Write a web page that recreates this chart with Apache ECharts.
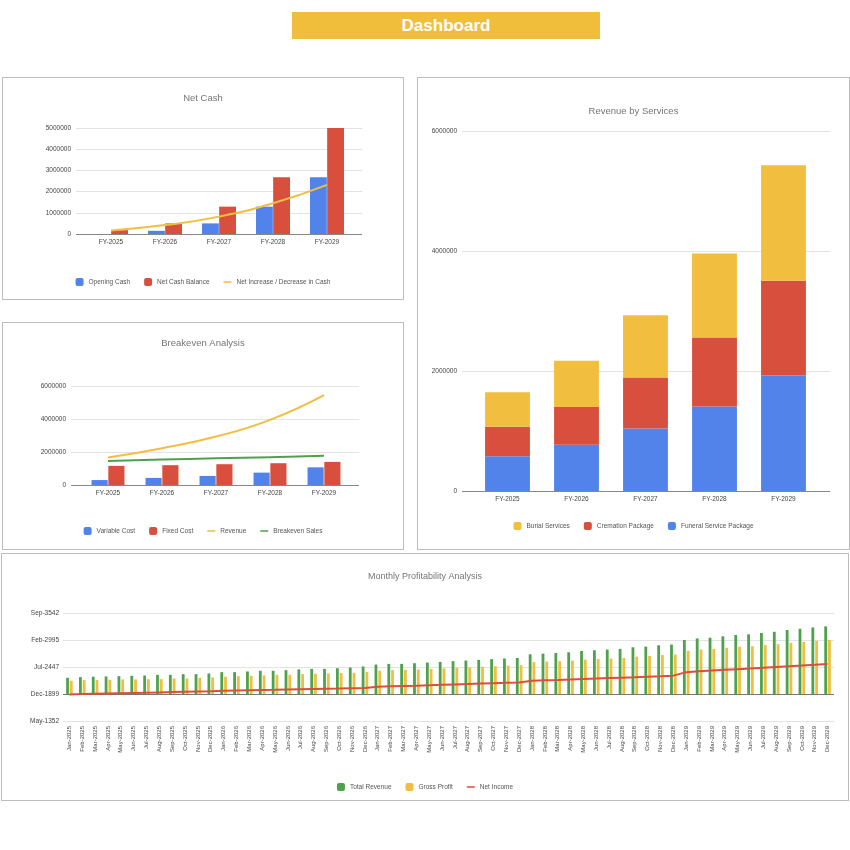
<!DOCTYPE html>
<html>
<head>
<meta charset="utf-8">
<title>Dashboard</title>
<script src="https://cdn.jsdelivr.net/npm/echarts@6/dist/echarts.min.js"></script>
<style>
  body { margin: 0; background: #fff; width: 850px; height: 850px; position: relative; overflow: hidden;
         font-family: "Liberation Sans", Arial, sans-serif; }
  .banner { position: absolute; left: 292px; top: 12px; width: 308px; height: 27px; background: #F1BE3B;
            color: #fff; font-weight: bold; font-size: 17px; text-align: center; line-height: 27px; }
  .panel { position: absolute; border: 1.5px solid #bcbcbc; box-sizing: border-box; background: #fff; }
  .chart { position: absolute; left: 0; top: 0; width: 100%; height: 100%; }
</style>
</head>
<body>
<div class="banner">Dashboard</div>
<div class="panel" style="left:2px; top:77px; width:402px; height:223px;"><div id="netCash" class="chart"></div></div>
<div class="panel" style="left:2px; top:322px; width:402px; height:228px;"><div id="breakeven" class="chart"></div></div>
<div class="panel" style="left:417px; top:77px; width:433px; height:473px;"><div id="revenue" class="chart"></div></div>
<div class="panel" style="left:1px; top:553px; width:848px; height:248px;"><div id="monthly" class="chart"></div></div>

<script>
// yearly categories
const years = ['FY-2025', 'FY-2026', 'FY-2027', 'FY-2028', 'FY-2029'];

// Net Cash
const openingCash = [0, 150000, 500000, 1290000, 2680000];
const netCashBalance = [180000, 500000, 1290000, 2680000, 5000000];
const netIncreaseCash = [170000, 420000, 820000, 1450000, 2320000];

// Breakeven Analysis
const variableCost = [300000, 430000, 550000, 750000, 1070000];
const fixedCost = [1160000, 1200000, 1260000, 1320000, 1400000];
const revenueLine = [1660000, 2230000, 2940000, 3950000, 5450000];
const breakevenSales = [1460000, 1540000, 1620000, 1680000, 1780000];

// Revenue by Services
const funeralService = [580000, 770000, 1040000, 1410000, 1925000];
const cremationPackage = [490000, 630000, 850000, 1150000, 1580000];
const burialServices = [575000, 770000, 1040000, 1400000, 1925000];

// Monthly Profitability Analysis
const monthNames = ['Jan', 'Feb', 'Mar', 'Apr', 'May', 'Jun', 'Jul', 'Aug', 'Sep', 'Oct', 'Nov', 'Dec'];
const calendarYears = ['2025', '2026', '2027', '2028', '2029'];
const totalRevenue = [
  120000, 125000, 128000, 130000, 132000, 135000, 137000, 142000, 142000, 147000, 147000, 152000,
  162000, 162000, 167000, 172000, 172000, 177000, 182000, 186000, 186000, 191000, 196000, 204000,
  218000, 223000, 223000, 228000, 233000, 238000, 243000, 248000, 253000, 258000, 263000, 267000,
  294000, 299000, 304000, 309000, 319000, 324000, 329000, 334000, 346000, 351000, 361000, 366000,
  400000, 412000, 417000, 427000, 437000, 442000, 452000, 461000, 474000, 483000, 493000, 501000
];
const grossProfit = [
  98000, 103000, 103000, 105000, 108000, 108000, 110000, 110000, 115000, 115000, 120000, 122000,
  128000, 132000, 135000, 137000, 142000, 142000, 147000, 150000, 152000, 155000, 157000, 164000,
  172000, 177000, 179000, 182000, 186000, 190000, 194000, 198000, 202000, 206000, 210000, 213000,
  236000, 240000, 243000, 247000, 255000, 259000, 263000, 267000, 277000, 281000, 289000, 293000,
  320000, 330000, 334000, 342000, 350000, 354000, 362000, 369000, 379000, 386000, 394000, 400000
];
const netIncome = [
  -3000, 0, 2000, 4000, 6000, 8000, 10000, 12000, 14000, 16000, 18000, 20000,
  24000, 26000, 28000, 30000, 31000, 33000, 35000, 37000, 39000, 40000, 42000, 44000,
  54000, 57000, 60000, 62000, 65000, 68000, 71000, 74000, 77000, 80000, 83000, 86000,
  98000, 101000, 104000, 108000, 111000, 114000, 118000, 121000, 124000, 128000, 131000, 136000,
  162000, 168000, 174000, 179000, 184000, 189000, 194000, 200000, 205000, 211000, 216000, 222000
];
const monthlyTickLabels = ['May-1352', 'Dec-1899', 'Jul-2447', 'Feb-2995', 'Sep-3542'];

const BLUE = '#5283EA';
const RED = '#D84F3E';
const YELLOW = '#F1BE3F';
const GREEN = '#4EA24C';
const FONT = '"Liberation Sans", Arial, sans-serif';
// thin dash used as legend icon for line series (corner dots keep the box square)
const LINE_ICON = 'path://M0,0h0.01v0.01h-0.01z M0,4.1h10v1.8h-10z M9.99,9.99h0.01v0.01h-0.01z';

function titleOpt(text, top, size) {
  return { text: text, left: 'center', top: top,
           textStyle: { fontFamily: FONT, fontSize: size, fontWeight: 'normal', color: '#757575' } };
}
function legendOpt(top, data) {
  return { top: top, left: 'center', itemWidth: 8, itemHeight: 8, itemGap: 14, data: data,
           textStyle: { fontFamily: FONT, fontSize: 6.5, color: '#555' } };
}

// Sheets-style layout: gridlines + labels span a wide back grid, bars sit in a narrower front grid
function layout(outer, inner, max, interval) {
  return {
    grid: [outer, inner],
    xAxis: [
      { gridIndex: 0, type: 'value', show: false, min: 0, max: 1 },
      { gridIndex: 1, type: 'category', data: years,
        axisLine: { show: false }, axisTick: { show: false },
        axisLabel: { fontFamily: FONT, fontSize: 6.5, color: '#444', margin: 5 } }
    ],
    yAxis: [
      { gridIndex: 0, type: 'value', min: 0, max: max, interval: interval,
        axisLine: { show: false }, axisTick: { show: false },
        axisLabel: { fontFamily: FONT, fontSize: 6.5, color: '#444', margin: 5, formatter: v => String(v) },
        splitLine: { lineStyle: { color: ['#888', '#e3e3e3', '#e3e3e3', '#e3e3e3', '#e3e3e3', '#e3e3e3'] } } },
      { gridIndex: 1, type: 'value', min: 0, max: max, interval: interval, show: false,
        splitLine: { show: false } }
    ]
  };
}
function onFront(s) { return Object.assign({ xAxisIndex: 1, yAxisIndex: 1 }, s); }

// ---- Net Cash ----
const netCashChart = echarts.init(document.getElementById('netCash'));
netCashChart.setOption(Object.assign({
  animation: false,
  title: titleOpt('Net Cash', 10, 9.5),
  legend: legendOpt(195, ['Opening Cash', 'Net Cash Balance',
    { name: 'Net Increase / Decrease in Cash', icon: LINE_ICON }]),
  series: [
    onFront({ name: 'Opening Cash', type: 'bar', data: openingCash, itemStyle: { color: BLUE },
      barCategoryGap: '37%', barGap: '2%' }),
    onFront({ name: 'Net Cash Balance', type: 'bar', data: netCashBalance, itemStyle: { color: RED } }),
    onFront({ name: 'Net Increase / Decrease in Cash', type: 'line', data: netIncreaseCash, smooth: true,
      symbol: 'none', lineStyle: { color: YELLOW, width: 2 }, itemStyle: { color: YELLOW } })
  ]
}, layout({ left: 73, top: 50, width: 286, height: 106 },
          { left: 81, top: 50, width: 270, height: 106 }, 5000000, 1000000)));

// ---- Breakeven Analysis ----
const breakevenChart = echarts.init(document.getElementById('breakeven'));
breakevenChart.setOption(Object.assign({
  animation: false,
  title: titleOpt('Breakeven Analysis', 10, 9.5),
  legend: legendOpt(199, ['Variable Cost', 'Fixed Cost',
    { name: 'Revenue', icon: LINE_ICON }, { name: 'Breakeven Sales', icon: LINE_ICON }]),
  series: [
    onFront({ name: 'Variable Cost', type: 'bar', data: variableCost, itemStyle: { color: BLUE },
      barCategoryGap: '39%', barGap: '4%' }),
    onFront({ name: 'Fixed Cost', type: 'bar', data: fixedCost, itemStyle: { color: RED } }),
    onFront({ name: 'Revenue', type: 'line', data: revenueLine, smooth: true, symbol: 'none',
      lineStyle: { color: YELLOW, width: 2 }, itemStyle: { color: YELLOW } }),
    onFront({ name: 'Breakeven Sales', type: 'line', data: breakevenSales, smooth: true, symbol: 'none',
      lineStyle: { color: GREEN, width: 2 }, itemStyle: { color: GREEN } })
  ]
}, layout({ left: 68, top: 63, width: 288, height: 99 },
          { left: 78, top: 63, width: 270, height: 99 }, 6000000, 2000000)));

// ---- Revenue by Services ----
const revenueChart = echarts.init(document.getElementById('revenue'));
revenueChart.setOption(Object.assign({
  animation: false,
  title: titleOpt('Revenue by Services', 23, 9.5),
  legend: legendOpt(439, ['Burial Services', 'Cremation Package', 'Funeral Service Package']),
  series: [
    onFront({ name: 'Funeral Service Package', type: 'bar', stack: 'rev', data: funeralService,
      itemStyle: { color: BLUE }, barCategoryGap: '35%' }),
    onFront({ name: 'Cremation Package', type: 'bar', stack: 'rev', data: cremationPackage,
      itemStyle: { color: RED } }),
    onFront({ name: 'Burial Services', type: 'bar', stack: 'rev', data: burialServices,
      itemStyle: { color: YELLOW } })
  ]
}, layout({ left: 44, top: 53, width: 368, height: 360 },
          { left: 55, top: 53, width: 345, height: 360 }, 6000000, 2000000)));

// ---- Monthly Profitability Analysis ----
const months = [];
calendarYears.forEach(y => monthNames.forEach(m => months.push(m + '-' + y)));

const monthlyChart = echarts.init(document.getElementById('monthly'));
monthlyChart.setOption({
  animation: false,
  title: titleOpt('Monthly Profitability Analysis', 13, 9),
  legend: legendOpt(224, ['Total Revenue', 'Gross Profit', { name: 'Net Income', icon: LINE_ICON }]),
  grid: { left: 61, top: 59, width: 771, height: 108 },
  xAxis: {
    type: 'category', data: months,
    axisLine: { show: false, onZero: false }, axisTick: { show: false },
    axisLabel: { fontFamily: FONT, fontSize: 6, color: '#444', rotate: 90, interval: 0, margin: 5 }
  },
  yAxis: {
    type: 'value', min: -200000, max: 600000, interval: 200000,
    axisLine: { show: false }, axisTick: { show: false },
    axisLabel: { fontFamily: FONT, fontSize: 6.5, color: '#444', margin: 4,
                 formatter: v => monthlyTickLabels[Math.round((v + 200000) / 200000)] },
    splitLine: { lineStyle: { color: ['#e3e3e3', '#777', '#e3e3e3', '#e3e3e3', '#e3e3e3'] } }
  },
  series: [
    { name: 'Total Revenue', type: 'bar', data: totalRevenue, itemStyle: { color: GREEN },
      barWidth: 2.8, barGap: '35%' },
    { name: 'Gross Profit', type: 'bar', data: grossProfit, itemStyle: { color: YELLOW },
      barWidth: 2.8 },
    { name: 'Net Income', type: 'line', data: netIncome, symbol: 'none',
      lineStyle: { color: RED, width: 2 }, itemStyle: { color: RED } }
  ]
});
</script>
</body>
</html>
